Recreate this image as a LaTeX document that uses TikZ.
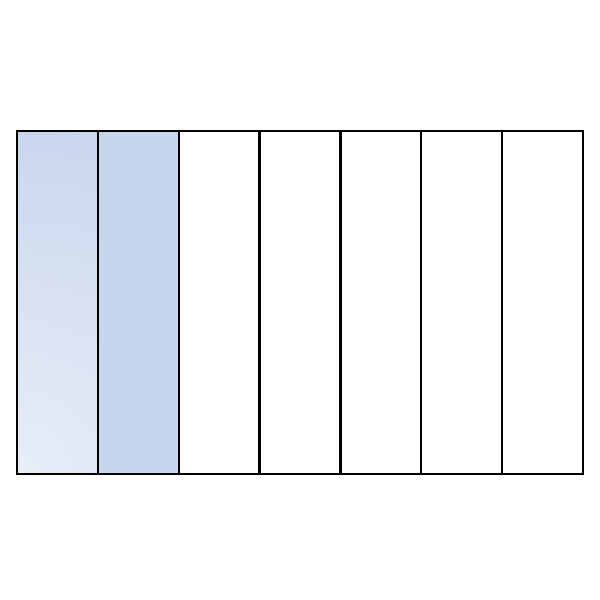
\documentclass[tikz,border=0pt]{standalone}
\usetikzlibrary{calc}
\definecolor{StripBlue}{RGB}{199,213,237}

\begin{document}
\begin{tikzpicture}[
    strip/.style={
      draw=black,
      line width=1.7pt,
      minimum width=2.0214cm,
      minimum height=8.575cm,
      inner sep=0pt,
      outer sep=0pt
    },
    faded strip/.style={
      strip,
      path picture={
        \shade[inner color=StripBlue!40!white, outer color=StripBlue]
          (path picture bounding box.south west) circle (9cm);
      }
    }]

    \useasboundingbox (0,0) rectangle (15,15);

    % 7 equal strips, first one faded, second one filled
    \node[faded strip] (strip1) at (1.4357,7.4375) {};
    \node[strip,fill=StripBlue] (strip2) at (3.4571,7.4375) {};
    \foreach \i in {3,...,7} {
      \node[strip] (strip\i) at ({0.425+(\i-0.5)*2.0214},7.4375) {};
    }
  \end{tikzpicture}
\end{document}
